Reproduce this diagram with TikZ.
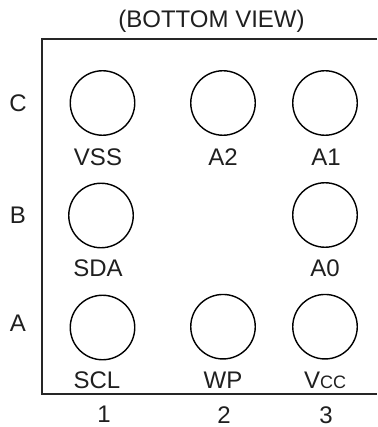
\documentclass[tikz,border=0pt]{standalone}
\usepackage{fontspec}
\setmainfont{Liberation Sans}
\tikzset{x=1pt,y=-1pt,
 pad/.style={circle,draw,line width=1.4pt,minimum size=64.5pt,inner sep=0pt},
 lbl/.style={font=\fontsize{24}{24}\selectfont,text=black!88,inner sep=0pt,anchor=base}}
\begin{document}
\begin{tikzpicture}
\useasboundingbox (0,0) rectangle (377,427);
\coordinate (tr) at (377,39);
\coordinate (tl) at (42,39);
\coordinate (bl) at (42,394);
\coordinate (br) at (377,394);
\draw[line width=1.7pt,black!85] (tr) -- (tl) -- (bl) -- (br);
\node[pad] (c1) at (102.5,103) {};
\node[pad] (c2) at (223,103) {};
\node[pad] (c3) at (325,103) {};
\node[pad] (b1) at (101,215.5) {};
\node[pad] (b3) at (325,215) {};
\node[pad] (a1) at (102.5,327.5) {};
\node[pad] (a2) at (223,326.7) {};
\node[pad] (a3) at (325,326.7) {};
\node[lbl] (title) at (211.5,28) {(BOTTOM VIEW)};
\node[lbl] (rc) at (18,112) {C};
\node[lbl] (rb) at (18,223) {B};
\node[lbl] (ra) at (18,331) {A};
\node[lbl] (lvss) at (98,166) {VSS};
\node[lbl] (la2) at (223,166) {A2};
\node[lbl] (la1) at (326,166) {A1};
\node[lbl] (lsda) at (98,276) {SDA};
\node[lbl] (la0) at (325,276) {A0};
\node[lbl] (lscl) at (97,388) {SCL};
\node[lbl] (lwp) at (223,388) {WP};
\node[lbl] (lvcc) at (325,388) {V{\fontsize{18}{18}\selectfont CC}};
\node[lbl] (n1) at (104,422.5) {1};
\node[lbl] (n2) at (224,423) {2};
\node[lbl] (n3) at (326,423) {3};
\end{tikzpicture}
\end{document}
